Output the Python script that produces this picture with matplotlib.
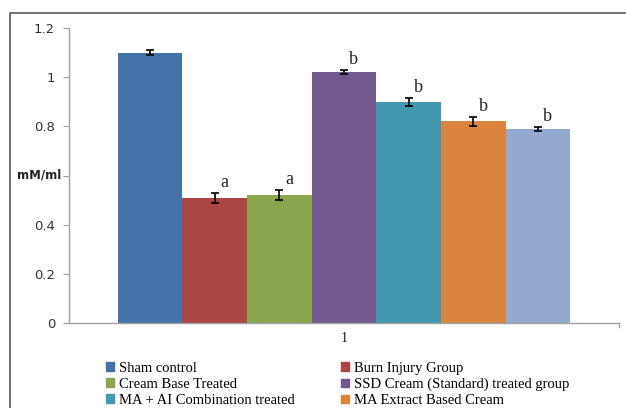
import numpy as np
import matplotlib.pyplot as plt
from matplotlib.patches import Rectangle

# ----------------------------------------------------------------------
# data
# ----------------------------------------------------------------------
groups = ["Sham control", "Burn Injury Group", "Cream Base Treated",
          "SSD Cream (Standard) treated group", "MA + AI Combination treated",
          "MA Extract Based Cream"]          # 7th legend row is cropped in the reference
values = [1.10, 0.51, 0.52, 1.02, 0.90, 0.82, 0.79]
errors = [0.010, 0.020, 0.020, 0.008, 0.016, 0.018, 0.008]
letters = ["", "a", "a", "b", "b", "b", "b"]
colors = ["#4472A8", "#AA4643", "#89A54E", "#71588F", "#4198AF", "#DB843D", "#93A9CF"]
yticks = [0, 0.2, 0.4, 0.6, 0.8, 1, 1.2]
ytick_labels = ["0", "0.2", "0.4", "", "0.8", "1", "1.2"]  # 0.6 hidden under the unit label

W, H = 626, 408
fig = plt.figure(figsize=(W / 100, H / 100), dpi=100)
fig.patch.set_facecolor("white")

# outer chart frame (runs off the right/bottom edge in the reference)
fig.patches.append(Rectangle((10 / W, -0.05), 1.2, (H - 13) / H + 0.05,
                             transform=fig.transFigure, fill=False,
                             edgecolor="#5a5a5a", linewidth=1.2))

ax = fig.add_axes([69 / W, 85 / H, (619 - 69) / W, (323 - 28) / H])

n = len(values)
bar_w = 1.0 / (n + 1.5)
x0 = -n * bar_w / 2
xs = [x0 + (i + 0.5) * bar_w for i in range(n)]

ax.bar(xs, values, width=bar_w, color=colors, edgecolor="none", zorder=2)
ax.errorbar(xs, values, yerr=errors, fmt="none", ecolor="black",
            elinewidth=1.2, capsize=3, capthick=1.2, zorder=3)

serif = ["Liberation Serif", "DejaVu Serif"]
for x, v, e, lab in zip(xs, values, errors, letters):
    if lab:
        ax.text(x + bar_w * 0.15, v + e + 0.008, lab, ha="center", va="bottom",
                fontsize=13, family=serif, color="#222222")

ax.set_xlim(-0.5, 0.5)
ax.set_ylim(0, 1.2)
ax.set_yticks(yticks)
ax.set_yticklabels(ytick_labels, fontsize=9.5, color="#333333")
ax.set_xticks([])
ax.tick_params(axis="y", direction="out", length=4, color="#a0a0a0", pad=6)
ax.text(0, -0.065, "1", transform=ax.transData, ha="center", va="center",
        fontsize=10, family=serif, color="#222222")
# category boundary tick at the right end of the x axis
ax.plot([0.5, 0.5], [0, -0.017], color="#a0a0a0", lw=1, clip_on=False)

for s in ["top", "right"]:
    ax.spines[s].set_visible(False)
for s in ["left", "bottom"]:
    ax.spines[s].set_color("#a0a0a0")
    ax.spines[s].set_linewidth(1)

fig.text(39 / W, 1 - 175 / H, "mM/ml", ha="center", va="center",
         fontsize=8.5, fontweight="bold", color="#222222")

# legend: two columns, filled row by row as in the reference
order = [0, 2, 4, 1, 3, 5]
handles = [Rectangle((0, 0), 1, 1, color=colors[i]) for i in order]
labels = [groups[i] for i in order]
leg = fig.legend(handles, labels, ncol=2, loc="upper left",
                 bbox_to_anchor=(100 / W, 1 - 356 / H), frameon=False,
                 prop={"family": serif, "size": 10.5},
                 handlelength=0.55, handleheight=0.55, handletextpad=0.35,
                 columnspacing=3.2, labelspacing=0.2, borderaxespad=0)

fig.savefig("out.png", dpi=100, facecolor="white")
